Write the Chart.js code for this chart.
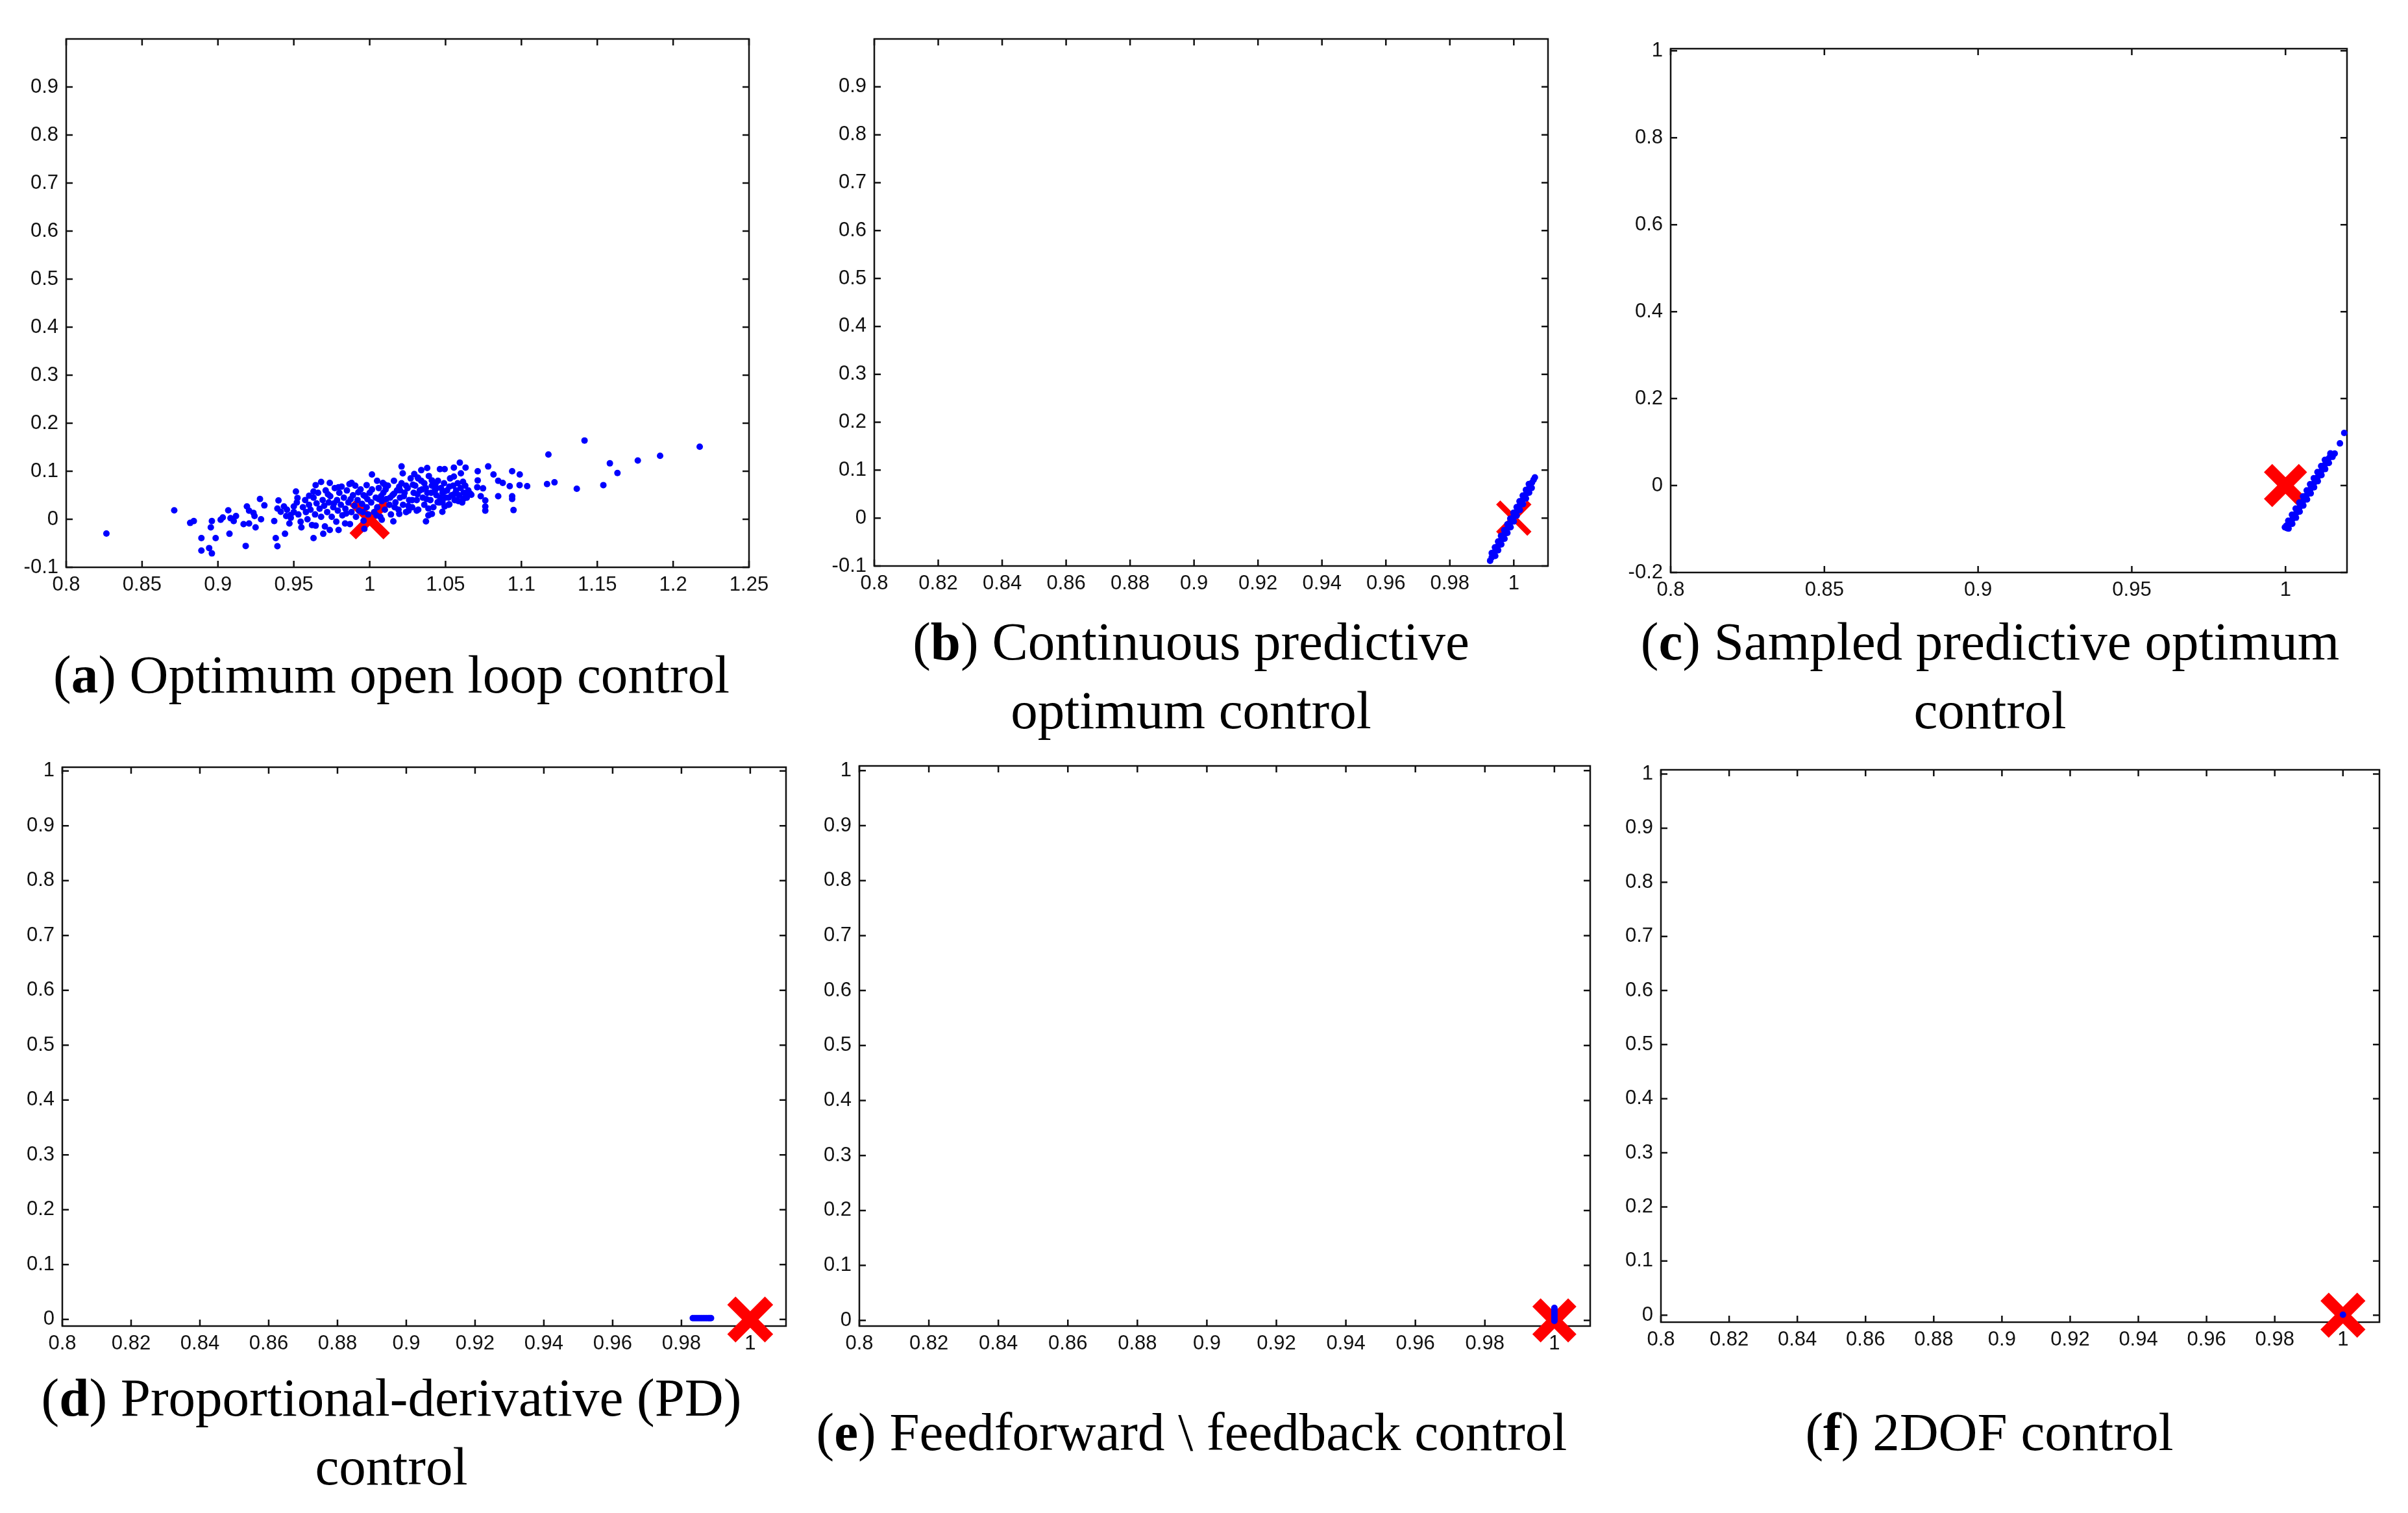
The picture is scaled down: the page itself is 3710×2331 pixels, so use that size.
<!DOCTYPE html>
<html>
<head>
<meta charset="utf-8">
<script src="https://cdn.jsdelivr.net/npm/chart.js@4.4.1/dist/chart.umd.min.js"></script>
<style>
  html, body { margin: 0; padding: 0; background: #fff; }
  body { width: 3710px; height: 2331px; position: relative; overflow: hidden; }
  .panel { position: absolute; }
  .caption {
    position: absolute; width: 2000px; text-align: center; white-space: nowrap;
    font-family: "Liberation Serif", "Times New Roman", serif; font-size: 83px; line-height: 83px; color: #000;
  }
</style>
</head>
<body>
<script>
// tick values for the different panels
const xTicksOpenLoop = [0.8, 0.85, 0.9, 0.95, 1, 1.05, 1.1, 1.15, 1.2, 1.25];
const xTicksFine = [0.8, 0.82, 0.84, 0.86, 0.88, 0.9, 0.92, 0.94, 0.96, 0.98, 1];
const xTicksSampled = [0.8, 0.85, 0.9, 0.95, 1];
const yTicksTenth = [-0.1, 0, 0.1, 0.2, 0.3, 0.4, 0.5, 0.6, 0.7, 0.8, 0.9];
const yTicksSampled = [-0.2, 0, 0.2, 0.4, 0.6, 0.8, 1];
const yTicksUnit = [0, 0.1, 0.2, 0.3, 0.4, 0.5, 0.6, 0.7, 0.8, 0.9, 1];

// reference point (red cross)
const target = [[1, 0]];

// (a) optimum open loop control
const openLoopPoints = [
  [0.8265,-0.0298],[0.8712,0.0187],[0.8817,-0.0076],[0.8841,-0.0036],[0.8891,-0.0391],[0.8891,-0.0653],
  [0.8942,-0.0600],[0.8960,-0.0711],[0.8953,-0.0169],[0.8960,-0.0036],[0.8985,-0.0391],[0.9018,-0.0009],
  [0.9032,0.0036],[0.9068,0.0187],[0.9076,-0.0302],[0.9083,0.0022],[0.9119,0.0067],[0.9104,-0.0036],
  [0.9169,-0.0102],[0.9191,0.0267],[0.9205,0.0178],[0.9234,0.0133],[0.9183,-0.0556],[0.9205,-0.0089],
  [0.9248,-0.0169],[0.9241,0.0067],[0.9277,0.0422],[0.9306,0.0289],[0.9284,0.0000],[0.9371,-0.0036],
  [0.9381,-0.0391],[0.9392,-0.0560],[0.9399,0.0391],[0.9392,0.0222],[0.9414,0.0156],[0.9435,0.0267],
  [0.9442,-0.0302],[0.9450,0.0067],[0.9471,-0.0089],[0.9478,0.0089],[0.9500,0.0267],[0.9514,0.0578],
  [0.9524,0.0444],[0.9550,-0.0169],[0.9630,-0.0391],[0.9644,0.0711],[0.9680,0.0778],[0.9737,0.0756],
  [0.9694,-0.0302],[0.9737,-0.0222],[0.9795,0.0667],[0.9867,0.0733],[0.9881,0.0756],[0.9795,-0.0222],
  [0.9838,-0.0089],[0.9644,-0.0133],[0.9601,0.0489],[0.9630,0.0578],
  [1.1416,0.1640],[1.2175,0.1510],[1.1178,0.1347],[1.1583,0.1164],[1.1767,0.1222],[1.1914,0.1320],
  [1.1633,0.0964],[1.1169,0.0733],[1.1218,0.0769],[1.1365,0.0636],[1.1540,0.0711],[1.0939,0.1000],
  [1.0989,0.0933],[1.0988,0.0711],[1.1038,0.0689],[1.0939,0.0480],[1.0939,0.0422],[1.0948,0.0191],
  [1.0847,0.0800],[1.0877,0.0756],[1.0923,0.0689],[1.0847,0.0480],[1.0781,0.1100],[1.0816,0.0933],
  [1.0712,0.1000],[1.0712,0.0809],[1.0709,0.0667],[1.0747,0.0644],[1.0732,0.0480],[1.0762,0.0391],
  [1.0762,0.0267],[1.0762,0.0178],[1.0670,0.0511],[1.0594,0.1178],[1.0632,0.1076],[1.0601,0.0956],
  [1.0555,0.1076],[1.0555,0.0889],[1.0463,0.1044],[1.0494,0.1044],[1.0379,0.1067],[1.0340,0.1022],
  [1.0210,0.1100],[1.0218,0.0956],[1.0294,0.0942],[1.0317,0.0867],[1.0410,0.0809],[1.0015,0.0933],
  [1.0049,0.0800],[1.0087,0.0756],[0.9980,0.0711],[1.0371,-0.0044],[1.0387,0.0222],[1.0410,0.0111],
  [1.0387,0.0080],[1.0479,0.0156],[1.0156,-0.0044],[1.0080,-0.0010],[0.9965,-0.0200],[1.0195,0.0111],
  [1.0256,0.0178],[1.0310,0.0178],[1.0448,0.0356],[1.0494,0.0267],[1.0525,0.0311],[1.0571,0.0400],
  [1.0617,0.0422],[1.0663,0.0533],
  [0.9455,0.0200],[0.9480,0.0030],[0.9500,0.0150],[0.9520,0.0350],[0.9530,0.0100],[0.9545,-0.0050],
  [0.9560,0.0250],[0.9575,0.0400],[0.9580,0.0150],[0.9590,0.0000],[0.9600,0.0300],[0.9610,0.0200],
  [0.9620,-0.0120],[0.9630,0.0450],[0.9640,0.0100],[0.9650,0.0330],[0.9660,0.0550],[0.9670,0.0220],
  [0.9680,0.0050],[0.9690,0.0400],[0.9700,0.0280],[0.9705,-0.0150],[0.9710,0.0600],[0.9720,0.0150],
  [0.9730,0.0350],[0.9740,0.0480],[0.9750,0.0050],[0.9760,0.0250],[0.9770,0.0650],[0.9780,-0.0050],
  [0.9785,0.0400],[0.9790,0.0180],[0.9800,0.0550],[0.9810,0.0300],[0.9820,0.0080],[0.9830,0.0450],
  [0.9840,0.0220],[0.9850,0.0600],[0.9860,0.0350],[0.9870,-0.0100],[0.9880,0.0150],[0.9890,0.0500],
  [0.9900,0.0280],[0.9905,0.0700],[0.9910,0.0050],[0.9920,0.0400],[0.9930,0.0180],[0.9940,0.0620],
  [0.9950,0.0320],[0.9960,-0.0030],[0.9970,0.0480],[0.9980,0.0250],[0.9990,0.0100],[1.0000,0.0550],
  [1.0010,0.0350],[1.0030,0.0150],[1.0040,0.0450],[1.0050,0.0250],[1.0060,0.0650],[1.0070,0.0050],
  [1.0080,0.0380],[1.0090,0.0550],[1.0100,0.0200],[1.0110,0.0420],[1.0120,0.0700],[1.0130,0.0300],
  [1.0140,0.0100],[1.0150,0.0500],[1.0160,0.0800],[1.0170,0.0350],[1.0180,0.0600],[1.0190,0.0200],
  [1.0200,0.0450],[1.0210,0.0750],[1.0220,0.0300],[1.0230,0.0550],[1.0240,0.0150],[1.0250,0.0650],
  [1.0260,0.0400],[1.0270,0.0850],[1.0280,0.0250],[1.0290,0.0550],[1.0300,0.0700],[1.0310,0.0400],
  [1.0320,0.0200],[1.0330,0.0600],[1.0340,0.0800],[1.0350,0.0450],[1.0360,0.0300],[1.0370,0.0650],
  [1.0380,0.0550],[1.0390,0.0900],[1.0400,0.0400],[1.0410,0.0700],[1.0420,0.0250],[1.0430,0.0600],
  [1.0440,0.0500],[1.0450,0.0800],[1.0460,0.0350],[1.0470,0.0650],[1.0480,0.0550],[1.0490,0.0750],
  [1.0500,0.0450],[1.0510,0.0600],[1.0520,0.0300],[1.0530,0.0850],[1.0540,0.0500],[1.0550,0.0700],
  [1.0560,0.0400],[1.0570,0.0600],[1.0580,0.0750],[1.0590,0.0500],[1.0600,0.0650],[1.0610,0.0350],
  [1.0620,0.0550],[1.0630,0.0700],[1.0640,0.0450],[1.0650,0.0600],
  [0.9725,0.0520],[0.9765,0.0330],[0.9815,0.0680],[0.9845,0.0120],[0.9875,0.0420],[0.9925,0.0560],
  [0.9955,0.0150],[0.9985,0.0420],[1.0015,0.0620],[1.0045,0.0080],[1.0075,0.0480],[1.0105,0.0620],
  [1.0135,0.0450],[1.0165,0.0250],[1.0195,0.0680],[1.0225,0.0480],[1.0255,0.0280],[1.0285,0.0720],
  [1.0315,0.0520],[1.0345,0.0620],[1.0375,0.0420],[1.0405,0.0550],[1.0435,0.0750],[1.0465,0.0450],
  [1.0495,0.0580],[1.0525,0.0680],[1.0555,0.0520],[1.0585,0.0380],[1.0615,0.0780],[1.0645,0.0520],
  [1.0160,0.0530],[1.0200,0.0600],[1.0240,0.0700],[1.0100,0.0720],[1.0060,0.0420],[0.9960,0.0500],
  [1.0280,0.0400],[1.0320,0.0850],[1.0360,0.0750],[1.0440,0.0650],[1.0480,0.0350],[1.0520,0.0450]
];

// (b) continuous predictive optimum control
const contPredPoints = [
  [0.9926,-0.089],[0.9931,-0.082],[0.9936,-0.076],[0.9941,-0.070],[0.9946,-0.064],[0.9951,-0.058],
  [0.9956,-0.052],[0.9960,-0.046],[0.9965,-0.040],[0.9970,-0.034],[0.9975,-0.028],[0.9980,-0.022],
  [0.9985,-0.016],[0.9989,-0.010],[0.9994,-0.004],[0.9999,0.002],[1.0004,0.008],[1.0009,0.014],
  [1.0014,0.020],[1.0018,0.026],[1.0023,0.032],[1.0028,0.038],[1.0033,0.044],[1.0038,0.050],
  [1.0042,0.056],[1.0047,0.062],[1.0052,0.068],[1.0057,0.074],[1.0062,0.080],[1.0066,0.085],
  [0.9942,-0.079],[0.9951,-0.067],[0.9961,-0.055],[0.9971,-0.043],[0.9980,-0.031],[0.9990,-0.019],
  [1.0000,-0.007],[1.0009,0.005],[1.0019,0.017],[1.0029,0.029],[1.0038,0.041],[1.0048,0.053],
  [1.0056,0.063],
  [0.9931,-0.073],[0.9941,-0.061],[0.9951,-0.049],[0.9960,-0.037],[0.9970,-0.025],[0.9980,-0.013],
  [0.9989,-0.001],[0.9999,0.011],[1.0009,0.023],[1.0018,0.035],[1.0028,0.047],[1.0038,0.059],
  [1.0047,0.071]
];

// (c) sampled predictive optimum control
const sampledPredPoints = [
  [1.0005,-0.098],[1.0010,-0.092],[1.0016,-0.085],[1.0022,-0.078],[1.0028,-0.071],[1.0034,-0.064],
  [1.0040,-0.057],[1.0046,-0.050],[1.0051,-0.043],[1.0057,-0.036],[1.0063,-0.029],[1.0069,-0.022],
  [1.0075,-0.015],[1.0081,-0.008],[1.0087,-0.001],[1.0093,0.006],[1.0099,0.013],[1.0105,0.020],
  [1.0111,0.027],[1.0117,0.034],[1.0122,0.041],[1.0128,0.048],[1.0134,0.055],[1.0140,0.062],
  [1.0146,0.069],[1.0149,0.0725],
  [1.0022,-0.088],[1.0034,-0.074],[1.0046,-0.060],[1.0058,-0.046],[1.0070,-0.032],[1.0082,-0.018],
  [1.0093,-0.004],[1.0105,0.010],[1.0117,0.024],[1.0129,0.038],[1.0141,0.052],[1.0153,0.066],
  [1.0009,-0.081],[1.0021,-0.067],[1.0033,-0.053],[1.0045,-0.039],[1.0057,-0.025],[1.0069,-0.011],
  [1.0080,0.003],[1.0092,0.017],[1.0104,0.031],[1.0116,0.045],[1.0128,0.059],
  [1.0155,0.0715],[1.0160,0.0735],[1.0146,0.0740],[0.9998,-0.0960],[1.0010,-0.0990],[1.0003,-0.0920],
  [1.0177,0.097],[1.0191,0.121]
];

// (d) proportional-derivative control
const pdPoints = [
  [0.9833,0.0025],[0.9838,0.0025],[0.9843,0.0025],[0.9848,0.0025],[0.9853,0.0025],[0.9858,0.0025],
  [0.9863,0.0025],[0.9868,0.0025],[0.9873,0.0025],[0.9878,0.0025],[0.9882,0.0025],[0.9886,0.0025]
];

// (e) feedforward \ feedback control
const ffFbPoints = [
  [1.0000,-0.0008],[1.0000,0.0020],[1.0000,0.0050],[1.0000,0.0080],[1.0000,0.0110],
  [1.0000,0.0140],[1.0000,0.0170],[1.0000,0.0200],[1.0000,0.0228]
];

// (f) 2DOF control
const twoDofPoints = [[1.0000,0.0010]];

const TICK_LEN = 10;
const PAD_L = 110, PAD_T = 40, PAD_R = 60, PAD_B = 70;

Chart.defaults.font.family = '"Liberation Sans", Arial, sans-serif';
Chart.defaults.font.size = 31;
Chart.defaults.color = '#111';

const panels = [
  { letter: 'a', points: openLoopPoints, xTicks: xTicksOpenLoop, yTicks: yTicksTenth,
    xRange: [0.8, 1.25], yRange: [-0.1, 1.0], box: [101.5, 48.7, 1153.8, 873.7],
    cross: { r: 37, w: 14 }, lines: ['Optimum open loop control'], capX: 603, capY: [1068] },
  { letter: 'b', points: contPredPoints, xTicks: xTicksFine, yTicks: yTicksTenth,
    xRange: [0.8, 1.0107], yRange: [-0.1, 1.0], box: [1346.6, 56.6, 2385, 871.8],
    cross: { r: 34, w: 9 }, lines: ['Continuous predictive', 'optimum control'], capX: 1835, capY: [1017, 1123] },
  { letter: 'c', points: sampledPredPoints, xTicks: xTicksSampled, yTicks: yTicksSampled,
    xRange: [0.8, 1.02], yRange: [-0.2, 1.005], box: [2573.6, 58.5, 3616, 881],
    cross: { r: 38, w: 18 }, lines: ['Sampled predictive optimum', 'control'], capX: 3066, capY: [1017, 1123] },
  { letter: 'd', points: pdPoints, xTicks: xTicksFine, yTicks: yTicksUnit,
    xRange: [0.8, 1.0104], yRange: [-0.012, 1.0068], box: [96.2, 1162.5, 1211.5, 2042.8],
    cross: { r: 41, w: 18 }, lines: ['Proportional-derivative (PD)', 'control'], capX: 603, capY: [2182, 2288] },
  { letter: 'e', points: ffFbPoints, xTicks: xTicksFine, yTicks: yTicksUnit,
    xRange: [0.8, 1.0103], yRange: [-0.0103, 1.0086], box: [1323.7, 1163.2, 2449.5, 2043.5],
    cross: { r: 39, w: 18 }, lines: ['Feedforward \\ feedback control'], capX: 1836, capY: [2235] },
  { letter: 'f', points: twoDofPoints, xTicks: xTicksFine, yTicks: yTicksUnit,
    xRange: [0.8, 1.0107], yRange: [-0.0129, 1.0078], box: [2559.4, 1168.4, 3666.7, 2036.9],
    cross: { r: 40, w: 18 }, lines: ['2DOF control'], capX: 3065, capY: [2235] }
];

// box round the plot with inward ticks on all four sides
const matlabFrame = {
  id: 'matlabFrame',
  beforeDatasetsDraw(chart) {
    const { ctx, chartArea: a, scales: { x, y } } = chart;
    ctx.save();
    ctx.strokeStyle = '#111';
    ctx.lineWidth = 2.5;
    ctx.strokeRect(a.left, a.top, a.right - a.left, a.bottom - a.top);
    ctx.beginPath();
    x.ticks.forEach(t => {
      const px = x.getPixelForValue(t.value);
      ctx.moveTo(px, a.bottom); ctx.lineTo(px, a.bottom - TICK_LEN);
      ctx.moveTo(px, a.top); ctx.lineTo(px, a.top + TICK_LEN);
    });
    y.ticks.forEach(t => {
      const py = y.getPixelForValue(t.value);
      ctx.moveTo(a.left, py); ctx.lineTo(a.left + TICK_LEN, py);
      ctx.moveTo(a.right, py); ctx.lineTo(a.right - TICK_LEN, py);
    });
    ctx.stroke();
    ctx.restore();
  }
};

function toXY(list) {
  return list.map(([x, y]) => ({ x, y }));
}

function makePanel(p) {
  const [l, t, r, b] = p.box;
  const w = Math.round(r - l) + PAD_L + PAD_R;
  const h = Math.round(b - t) + PAD_T + PAD_B;

  const div = document.createElement('div');
  div.className = 'panel';
  div.style.left = Math.round(l - PAD_L) + 'px';
  div.style.top = Math.round(t - PAD_T) + 'px';
  div.style.width = w + 'px';
  div.style.height = h + 'px';
  const canvas = document.createElement('canvas');
  div.appendChild(canvas);
  document.body.appendChild(div);

  new Chart(canvas, {
    type: 'scatter',
    data: {
      datasets: [
        { data: toXY(p.points), order: 0, clip: false,
          pointStyle: 'circle', pointRadius: 5, pointHoverRadius: 5, pointBorderWidth: 0,
          pointBackgroundColor: '#0000ff' },
        { data: toXY(target), order: 1, clip: false,
          pointStyle: 'crossRot', pointRadius: p.cross.r, pointHoverRadius: p.cross.r,
          pointBorderWidth: p.cross.w, pointHoverBorderWidth: p.cross.w, pointBorderColor: '#ff0000' }
      ]
    },
    options: {
      responsive: true,
      maintainAspectRatio: false,
      animation: false,
      events: [],
      layout: { padding: { left: 0, top: PAD_T, right: PAD_R, bottom: 0 } },
      plugins: { legend: { display: false }, tooltip: { enabled: false } },
      scales: {
        x: {
          type: 'linear', min: p.xRange[0], max: p.xRange[1],
          grid: { display: false, drawTicks: false },
          border: { display: false },
          ticks: { autoSkip: false, maxRotation: 0, padding: 9, callback: v => String(v) },
          afterBuildTicks: s => { s.ticks = p.xTicks.map(v => ({ value: v })); },
          afterFit: s => { s.height = PAD_B; s.paddingLeft = 0; s.paddingRight = 0; }
        },
        y: {
          type: 'linear', min: p.yRange[0], max: p.yRange[1],
          grid: { display: false, drawTicks: false },
          border: { display: false },
          ticks: { autoSkip: false, padding: 12, callback: v => String(v) },
          afterBuildTicks: s => { s.ticks = p.yTicks.map(v => ({ value: v })); },
          afterFit: s => { s.width = PAD_L; s.paddingTop = 0; s.paddingBottom = 0; }
        }
      }
    },
    plugins: [matlabFrame]
  });

  const fs = 83;
  p.lines.forEach((line, i) => {
    const c = document.createElement('div');
    c.className = 'caption';
    c.style.left = (p.capX - 1000) + 'px';
    c.style.top = (p.capY[i] - 0.8375 * fs) + 'px';
    if (i === 0) {
      c.innerHTML = '(<b>' + p.letter + '</b>) ';
      c.appendChild(document.createTextNode(line));
    } else {
      c.textContent = line;
    }
    document.body.appendChild(c);
  });
}

panels.forEach(makePanel);
</script>
</body>
</html>
